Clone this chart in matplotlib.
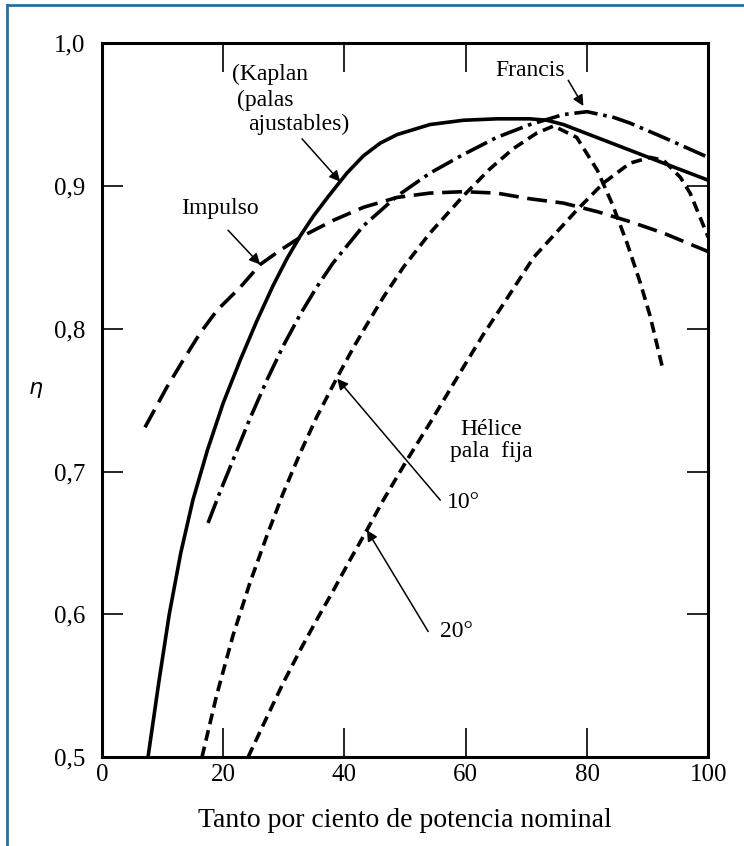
import matplotlib
matplotlib.use("Agg")
from matplotlib import pyplot as plt
from matplotlib.lines import Line2D
from matplotlib.ticker import FuncFormatter

plt.rcParams['font.family'] = ['Liberation Serif', 'DejaVu Serif']

# Kaplan (palas ajustables)
kaplan_x = [7.6, 9.4, 11.1, 13.0, 15.0, 17.4, 20.0, 22.8, 25.5, 28.2, 30.5, 32.7, 34.9,
            37.4, 40.4, 43.1, 45.9, 48.7, 54.1, 59.6, 65.1, 70.6, 73.4, 76.1, 81.6, 87.1, 92.6, 100]
kaplan_y = [0.5, 0.553, 0.6, 0.643, 0.680, 0.715, 0.748, 0.778, 0.805, 0.830, 0.849, 0.865, 0.879,
            0.893, 0.909, 0.921, 0.930, 0.936, 0.943, 0.946, 0.947, 0.947, 0.946, 0.943, 0.934, 0.925, 0.916, 0.904]

# Francis
francis_x = [17.5, 19.5, 21.9, 24.4, 27.2, 29.9, 32.7, 35.4, 38.1, 43.1, 48.7, 54.1, 59.6, 65.1,
             70.6, 76.1, 80.0, 84.4, 87.1, 92.6, 100]
francis_y = [0.664, 0.686, 0.711, 0.737, 0.764, 0.788, 0.810, 0.829, 0.846, 0.872, 0.893, 0.909, 0.922, 0.934,
             0.943, 0.950, 0.952, 0.948, 0.944, 0.934, 0.920]

# Impulso
impulso_x = [7.1, 10.7, 13.4, 16.2, 19.0, 22.8, 26.1, 29.4, 32.7, 38.2, 43.1, 48.7, 54.1, 59.6,
             65.1, 70.6, 76.1, 81.7, 87.1, 92.6, 100]
impulso_y = [0.731, 0.759, 0.778, 0.797, 0.813, 0.829, 0.845, 0.855, 0.864, 0.876, 0.885, 0.892, 0.895, 0.896,
             0.895, 0.891, 0.888, 0.882, 0.875, 0.867, 0.854]

# Hélice pala fija 10°
helice10_x = [16.5, 18.9, 21.6, 24.4, 27.2, 29.9, 32.7, 35.4, 38.8, 41.5, 43.7, 46.4, 49.7, 54.1,
              59.6, 64.0, 67.8, 71.7, 74.5, 78.3, 81.7, 84.2, 86.6, 88.8, 90.4, 92.6]
helice10_y = [0.5, 0.543, 0.585, 0.622, 0.655, 0.685, 0.713, 0.738, 0.766, 0.787, 0.803, 0.822, 0.843, 0.867,
              0.893, 0.912, 0.926, 0.937, 0.942, 0.934, 0.911, 0.887, 0.860, 0.832, 0.809, 0.770]

# Hélice pala fija 20°
helice20_x = [24.1, 27.2, 29.9, 32.7, 35.4, 38.2, 40.9, 43.7, 46.4, 50.3, 54.1, 59.6, 62.9, 65.7,
              71.2, 78.3, 82.7, 87.1, 90.4, 92.6, 95.4, 97.0, 100]
helice20_y = [0.5, 0.528, 0.552, 0.575, 0.596, 0.617, 0.638, 0.659, 0.680, 0.708, 0.734, 0.773, 0.796, 0.814,
              0.850, 0.883, 0.902, 0.916, 0.920, 0.918, 0.906, 0.895, 0.864]

x_ticks = [0, 20, 40, 60, 80, 100]
y_ticks = [0.5, 0.6, 0.7, 0.8, 0.9, 1.0]

fig = plt.figure(figsize=(7.44, 8.46), dpi=100)
ax = fig.add_axes([0.137, 0.105, 0.815, 0.844])

lw = 2.6
ax.plot(kaplan_x, kaplan_y, color='black', lw=lw, solid_capstyle='butt', solid_joinstyle='round')
ax.plot(francis_x, francis_y, color='black', lw=lw, dashes=(6.5, 1.6, 1.0, 1.6))
ax.plot(impulso_x, impulso_y, color='black', lw=lw, dashes=(5.5, 2.4))
ax.plot(helice10_x, helice10_y, color='black', lw=lw, dashes=(3.0, 1.7))
ax.plot(helice20_x, helice20_y, color='black', lw=lw, dashes=(3.0, 1.7))

ax.set_xlim(0, 100)
ax.set_ylim(0.5, 1.0)
ax.set_xticks(x_ticks)
ax.set_yticks(y_ticks)
ax.yaxis.set_major_formatter(FuncFormatter(lambda v, p: ('%.1f' % v).replace('.', ',')))
ax.tick_params(axis='x', direction='in', length=21, width=1.2, top=True,
               labelsize=18, pad=5)
ax.tick_params(axis='y', direction='in', length=15, width=1.2, right=True,
               labelsize=18, pad=12)
for s in ax.spines.values():
    s.set_linewidth(2.2)

ax.set_xlabel('Tanto por ciento de potencia nominal', fontsize=20, labelpad=16)
ax.set_ylabel(r'$\eta$', fontsize=16, rotation=0)
ax.yaxis.set_label_coords(-0.11, 0.5)

arrow = dict(arrowstyle='-|>', color='black', lw=1.1, mutation_scale=16,
             shrinkA=0, shrinkB=0)
tsize = 17

ax.text(21.5, 0.978, '(Kaplan', fontsize=tsize, va='center', ha='left')
ax.text(22.3, 0.960, '(palas', fontsize=tsize, va='center', ha='left')
ax.text(24.1, 0.943, 'ajustables)', fontsize=tsize, va='center', ha='left')
ax.annotate('', xy=(39.3, 0.903), xytext=(33.0, 0.933), arrowprops=arrow)

ax.text(70.6, 0.981, 'Francis', fontsize=tsize, va='center', ha='center')
ax.annotate('', xy=(79.4, 0.956), xytext=(76.9, 0.974), arrowprops=arrow)

ax.text(19.5, 0.884, 'Impulso', fontsize=tsize, va='center', ha='center')
ax.annotate('', xy=(26.1, 0.845), xytext=(20.8, 0.869), arrowprops=arrow)

ax.text(64.2, 0.722, 'Hélice\npala  fija', fontsize=tsize, va='center',
        ha='center', linespacing=1.05)

ax.text(56.9, 0.678, '10°', fontsize=tsize, va='center', ha='left')
ax.annotate('', xy=(38.8, 0.765), xytext=(55.8, 0.680), arrowprops=arrow)

ax.text(55.8, 0.588, '20°', fontsize=tsize, va='center', ha='left')
ax.annotate('', xy=(43.7, 0.659), xytext=(53.8, 0.588), arrowprops=arrow)

# blue frame (top and left edges visible)
fig.add_artist(Line2D([7 / 744, 1.0], [1 - 5 / 846, 1 - 5 / 846],
                      color='#2a6f9e', lw=2, transform=fig.transFigure))
fig.add_artist(Line2D([7 / 744, 7 / 744], [0.0, 1 - 5 / 846],
                      color='#2a6f9e', lw=2, transform=fig.transFigure))

fig.savefig('out.png', dpi=100)
